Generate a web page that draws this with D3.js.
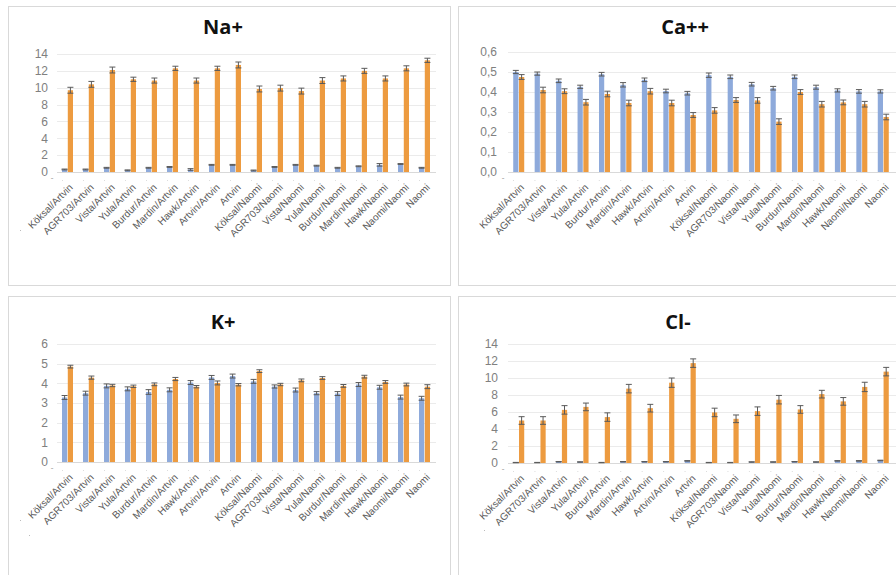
<!DOCTYPE html>
<html><head><meta charset="utf-8">
<script src="https://cdn.jsdelivr.net/npm/d3@7"></script>
<style>
html,body{margin:0;padding:0;background:#fff;}
svg{display:block;}
</style></head>
<body><svg id="c" width="896" height="575"></svg>
<script>
const categories = ["Köksal/Artvin","AGR703/Artvin","Vista/Artvin","Yula/Artvin","Burdur/Artvin","Mardin/Artvin","Hawk/Artvin","Artvin/Artvin","Artvin","Köksal/Naomi","AGR703/Naomi","Vista/Naomi","Yula/Naomi","Burdur/Naomi","Mardin/Naomi","Hawk/Naomi","Naomi/Naomi","Naomi"];

const naBlue   = [0.3,0.3,0.5,0.2,0.5,0.6,0.3,0.85,0.85,0.18,0.6,0.85,0.75,0.5,0.68,0.85,0.95,0.5];
const naOrange = [9.7,10.4,12.1,11.0,10.85,12.3,10.85,12.3,12.7,9.85,9.95,9.6,10.85,11.1,12.0,11.1,12.3,13.25];
const naBlueErr   = [0.05,0.05,0.05,0.05,0.05,0.05,0.1,0.05,0.05,0.05,0.05,0.05,0.05,0.05,0.05,0.15,0.05,0.05];
const naOrangeErr = [0.35,0.35,0.35,0.25,0.3,0.25,0.3,0.25,0.35,0.35,0.35,0.35,0.35,0.3,0.3,0.3,0.3,0.25];

const caBlue   = [0.50,0.492,0.456,0.426,0.489,0.436,0.461,0.405,0.394,0.484,0.476,0.439,0.419,0.476,0.424,0.408,0.403,0.403];
const caOrange = [0.475,0.41,0.404,0.349,0.39,0.345,0.404,0.345,0.285,0.308,0.36,0.358,0.252,0.40,0.339,0.348,0.339,0.275];
const caBlueErr   = [0.008,0.008,0.009,0.008,0.009,0.011,0.009,0.009,0.009,0.011,0.009,0.009,0.009,0.009,0.01,0.008,0.009,0.008];
const caOrangeErr = [0.012,0.014,0.012,0.014,0.014,0.014,0.014,0.014,0.012,0.014,0.012,0.014,0.014,0.012,0.014,0.012,0.014,0.014];

const kBlue   = [3.28,3.5,3.87,3.72,3.56,3.67,4.04,4.3,4.37,4.1,3.84,3.66,3.5,3.48,3.94,3.8,3.3,3.24];
const kOrange = [4.85,4.29,3.89,3.85,3.95,4.22,3.83,4.02,3.93,4.62,3.94,4.15,4.27,3.87,4.34,4.07,3.94,3.83];
const kBlueErr   = [0.1,0.1,0.1,0.1,0.12,0.1,0.1,0.1,0.1,0.1,0.08,0.1,0.08,0.1,0.1,0.1,0.1,0.1];
const kOrangeErr = [0.07,0.08,0.06,0.06,0.07,0.08,0.06,0.1,0.06,0.07,0.06,0.07,0.07,0.07,0.07,0.07,0.07,0.1];

const clBlue   = [0.05,0.05,0.15,0.12,0.05,0.15,0.15,0.15,0.25,0.05,0.05,0.12,0.12,0.15,0.12,0.25,0.25,0.3];
const clOrange = [5.0,5.0,6.25,6.6,5.4,8.75,6.45,9.45,11.75,5.95,5.2,6.1,7.45,6.3,8.1,7.25,8.95,10.75];
const clBlueErr   = [0.02,0.02,0.02,0.02,0.02,0.02,0.02,0.02,0.03,0.02,0.02,0.02,0.02,0.02,0.02,0.03,0.03,0.03];
const clOrangeErr = [0.45,0.45,0.5,0.45,0.5,0.5,0.45,0.55,0.5,0.5,0.45,0.5,0.5,0.45,0.45,0.45,0.55,0.5];

const naTicks = [0,2,4,6,8,10,12,14];
const caTicks = [0,0.1,0.2,0.3,0.4,0.5,0.6];
const kTicks  = [0,1,2,3,4,5,6];
const clTicks = [0,2,4,6,8,10,12,14];

const svg = d3.select("#c");
const BLUE = "#8eaadb", ORANGE = "#ed9b40", ERR = "#5a5a5a";
const FONT = "'Liberation Sans', Arial, sans-serif";

function panel(o) {
  svg.append("rect").attr("x", o.box[0] + 0.5).attr("y", o.box[1] + 0.5)
    .attr("width", o.box[2] - o.box[0]).attr("height", o.box[3] - o.box[1])
    .attr("fill", "#fff").attr("stroke", "#d9d9d9");
  svg.append("text").attr("x", o.titleX).attr("y", o.titleY)
    .attr("text-anchor", "middle").attr("font-family", "'Open Sans', sans-serif")
    .attr("font-weight", "bold").attr("font-size", 20).attr("fill", "#111").text(o.title);

  const y = d3.scaleLinear().domain([0, o.max]).range([o.y0, o.y1]);
  const x = d3.scaleBand().domain(categories).range([o.x0, o.x1]);
  const x1 = d3.scaleBand().domain(["a", "b"]).range([x.bandwidth() / 2 - 5.5, x.bandwidth() / 2 + 5.5]).paddingInner(0.1);

  const g = svg.append("g");
  g.selectAll("line.grid").data(o.ticks.slice(1)).join("line")
    .attr("x1", o.x0).attr("x2", o.gridX2)
    .attr("y1", d => Math.round(y(d)) + 0.5).attr("y2", d => Math.round(y(d)) + 0.5)
    .attr("stroke", "#ebebeb");
  g.append("line").attr("x1", o.x0).attr("x2", o.gridX2)
    .attr("y1", Math.round(y(0)) + 0.5).attr("y2", Math.round(y(0)) + 0.5).attr("stroke", "#d9d9d9");

  const yAxis = d3.axisLeft(y).tickValues(o.ticks).tickSize(0).tickPadding(0).tickFormat(o.fmt);
  const ya = svg.append("g").attr("transform", `translate(${o.labelX},0)`).call(yAxis);
  ya.select(".domain").remove();
  ya.selectAll("text").attr("font-family", FONT).attr("font-size", 12).attr("fill", "#808080");

  svg.append("text").attr("x", o.x0 - 5).attr("y", o.y0 + 9).attr("font-size", 8)
    .attr("fill", "#999").attr("text-anchor", "middle").text("-");
  g.selectAll("rect.tk").data(categories).join("rect")
    .attr("x", d => x(d) + 5).attr("y", o.y0 + 8).attr("width", 1).attr("height", 1).attr("fill", "#ddd");

  const series = [
    { k: "a", v: o.blue, e: o.blueErr, c: BLUE },
    { k: "b", v: o.orange, e: o.orangeErr, c: ORANGE }
  ];
  series.forEach(s => {
    const gs = g.append("g");
    gs.selectAll("rect").data(categories).join("rect")
      .attr("x", d => x(d) + x1(s.k)).attr("width", x1.bandwidth())
      .attr("y", (d, i) => y(s.v[i])).attr("height", (d, i) => y(0) - y(s.v[i]))
      .attr("fill", s.c);
    const eg = gs.selectAll("g.e").data(categories).join("g");
    eg.append("line")
      .attr("x1", d => x(d) + x1(s.k) + x1.bandwidth() / 2).attr("x2", d => x(d) + x1(s.k) + x1.bandwidth() / 2)
      .attr("y1", (d, i) => y(s.v[i] - s.e[i])).attr("y2", (d, i) => y(s.v[i] + s.e[i]))
      .attr("stroke", ERR).attr("stroke-width", 1);
    [-1, 1].forEach(sg => {
      eg.append("line")
        .attr("x1", d => x(d) + x1(s.k) + x1.bandwidth() / 2 - 3)
        .attr("x2", d => x(d) + x1(s.k) + x1.bandwidth() / 2 + 3)
        .attr("y1", (d, i) => y(s.v[i] + sg * s.e[i])).attr("y2", (d, i) => y(s.v[i] + sg * s.e[i]))
        .attr("stroke", ERR).attr("stroke-width", 1);
    });
  });

  g.selectAll("text.cat").data(categories).join("text")
    .attr("transform", d => `translate(${x(d) + x.bandwidth() / 2 + 6},${o.y0 + 16}) rotate(-45)`)
    .attr("text-anchor", "end").attr("font-family", FONT).attr("font-size", 10)
    .attr("fill", "#595959").text(d => d);

  if (o.dots) o.dots.forEach(p => {
    svg.append("rect").attr("x", p[0]).attr("y", p[1]).attr("width", 1).attr("height", 1).attr("fill", "#bbb");
  });
}

const intFmt = d3.format("d");
const commaFmt = d => d3.format(".1f")(d).replace(".", ",");

panel({ box: [8, 6, 450, 285], title: "Na+", titleX: 223, titleY: 34,
  x0: 57, x1: 435, y0: 172, y1: 54, max: 14, gridX2: 436, labelX: 48,
  ticks: naTicks, fmt: intFmt, blue: naBlue, orange: naOrange, blueErr: naBlueErr, orangeErr: naOrangeErr,
  dots: [[20, 230]] });
panel({ box: [458, 6, 900, 285], title: "Ca++", titleX: 685, titleY: 34,
  x0: 508, x1: 894, y0: 172, y1: 52, max: 0.6, gridX2: 896, labelX: 497,
  ticks: caTicks, fmt: commaFmt, blue: caBlue, orange: caOrange, blueErr: caBlueErr, orangeErr: caOrangeErr });
panel({ box: [8, 296, 450, 580], title: "K+", titleX: 223, titleY: 329,
  x0: 57, x1: 435, y0: 462, y1: 344, max: 6, gridX2: 436, labelX: 48,
  ticks: kTicks, fmt: intFmt, blue: kBlue, orange: kOrange, blueErr: kBlueErr, orangeErr: kOrangeErr,
  dots: [[20, 520], [29, 535]] });
panel({ box: [458, 296, 900, 580], title: "Cl-", titleX: 678, titleY: 329,
  x0: 508, x1: 894, y0: 463, y1: 344, max: 14, gridX2: 896, labelX: 498,
  ticks: clTicks, fmt: intFmt, blue: clBlue, orange: clOrange, blueErr: clBlueErr, orangeErr: clOrangeErr,
  dots: [[484, 530]] });
</script>
</body></html>
